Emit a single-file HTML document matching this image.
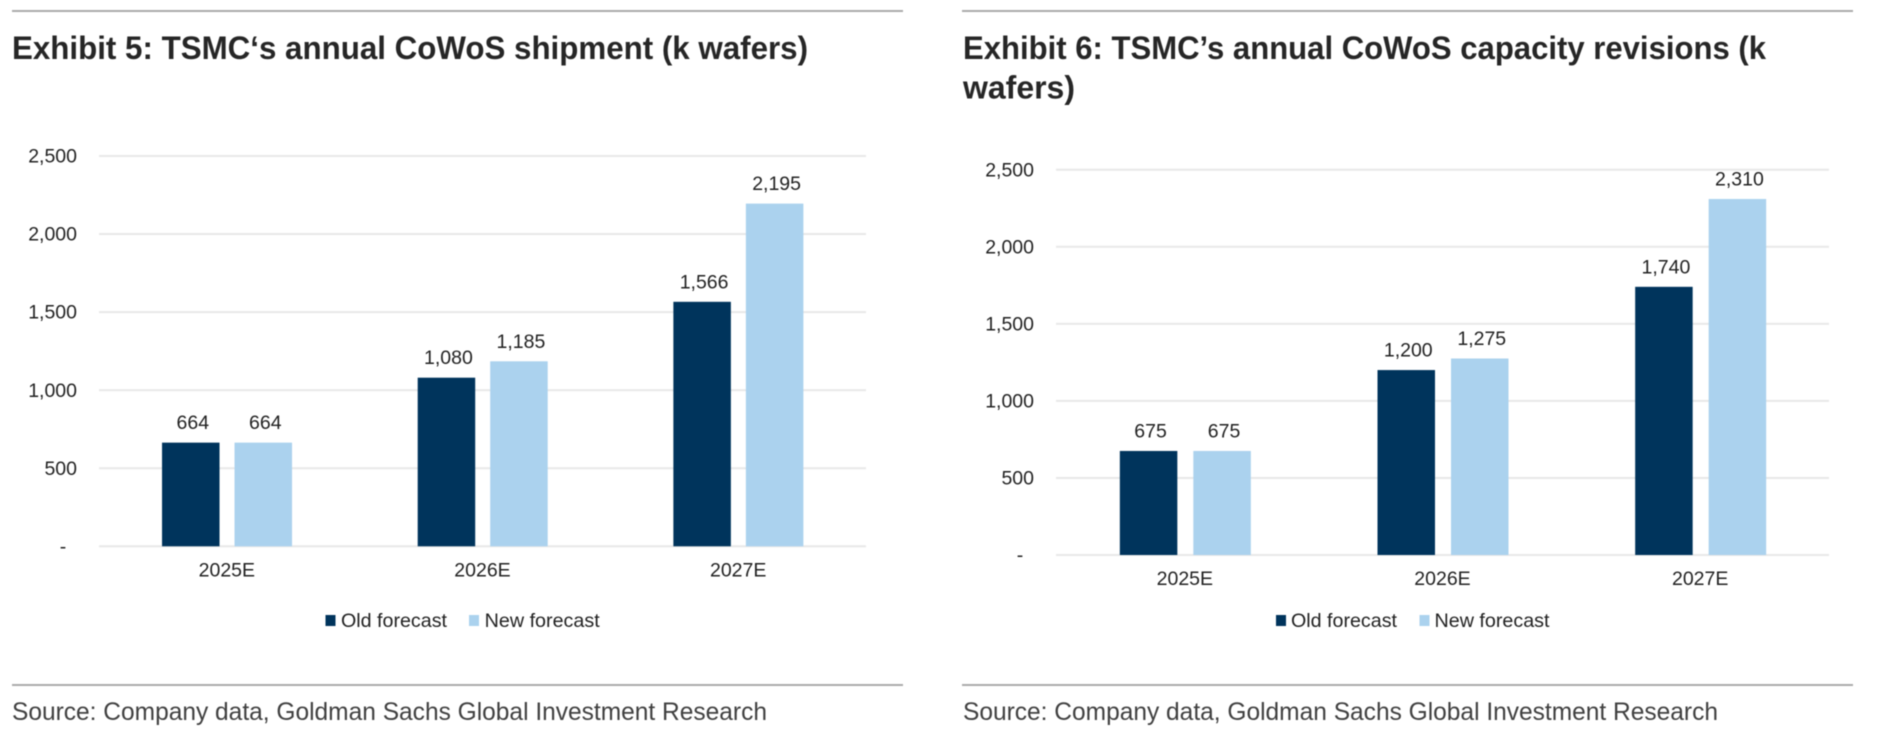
<!DOCTYPE html>
<html lang="en">
<head>
<meta charset="utf-8">
<title>TSMC CoWoS exhibits</title>
<style>
html,body{margin:0;padding:0;background:#fff;width:1884px;height:748px;overflow:hidden}
svg{display:block;filter:blur(0.45px)}
text{font-family:"Liberation Sans",Arial,sans-serif}
.title{font-size:32.5px;font-weight:700;fill:#262626}
.source{font-size:25px;fill:#404040}
.lab{font-size:19.5px;fill:#222}
</style>
</head>
<body>
<svg id="page" xmlns="http://www.w3.org/2000/svg" width="1884" height="748" viewBox="0 0 1884 748">
  <rect x="0" y="0" width="1884" height="748" fill="#ffffff"/>

  <g id="panel5">
    <rect x="12" y="10" width="891" height="2" fill="#aaaaaa"/>
    <text class="title" x="12" y="59" textLength="796" lengthAdjust="spacingAndGlyphs">Exhibit 5: TSMC‘s annual CoWoS shipment (k wafers)</text>
    <rect x="12" y="684" width="891" height="2" fill="#aaaaaa"/>
    <text class="source" x="12" y="720" textLength="755" lengthAdjust="spacingAndGlyphs">Source: Company data, Goldman Sachs Global Investment Research</text>
    <g>
      <rect x="325.5" y="615" width="10" height="11" fill="#00345c"/>
      <text class="lab" x="341" y="627" textLength="106" lengthAdjust="spacingAndGlyphs">Old forecast</text>
      <rect x="469" y="615" width="10" height="11" fill="#abd2ee"/>
      <text class="lab" x="484.7" y="627" textLength="115" lengthAdjust="spacingAndGlyphs">New forecast</text>
    </g>
  </g>

  <g id="panel6">
    <rect x="962" y="10" width="891" height="2" fill="#aaaaaa"/>
    <text class="title" x="963" y="59" textLength="803" lengthAdjust="spacingAndGlyphs">Exhibit 6: TSMC’s annual CoWoS capacity revisions (k</text>
    <text class="title" x="963" y="98.5" textLength="112" lengthAdjust="spacingAndGlyphs">wafers)</text>
    <rect x="962" y="684" width="891" height="2" fill="#aaaaaa"/>
    <text class="source" x="963" y="720" textLength="755" lengthAdjust="spacingAndGlyphs">Source: Company data, Goldman Sachs Global Investment Research</text>
    <g>
      <rect x="1276" y="615" width="10" height="11" fill="#00345c"/>
      <text class="lab" x="1291" y="627" textLength="106" lengthAdjust="spacingAndGlyphs">Old forecast</text>
      <rect x="1419.5" y="615" width="10" height="11" fill="#abd2ee"/>
      <text class="lab" x="1434.5" y="627" textLength="115" lengthAdjust="spacingAndGlyphs">New forecast</text>
    </g>
  </g>
</svg>

<script>
const categories = ['2025E', '2026E', '2027E'];
const tickValues = [0, 500, 1000, 1500, 2000, 2500];
const tickLabels = ['-', '500', '1,000', '1,500', '2,000', '2,500'];
const shipmentOld = [664, 1080, 1566];
const shipmentNew = [664, 1185, 2195];
const capacityOld = [675, 1200, 1740];
const capacityNew = [675, 1275, 2310];

const NS = 'http://www.w3.org/2000/svg';
const DARK = '#00345c';
const LIGHT = '#abd2ee';
const GRID = '#e8e8e8';

function svgEl(tag, parent) {
  const el = document.createElementNS(NS, tag);
  parent.appendChild(el);
  return el;
}

function formatValue(v) {
  return v.toLocaleString('en-US');
}

function drawChart(root, oldVals, newVals, box) {
  const maxTick = tickValues[tickValues.length - 1];
  const yScale = function (v) {
    return box.y0 + (box.yTop - box.y0) * v / maxTick;
  };
  const bandWidth = (box.x1 - box.x0) / categories.length;
  const xCenter = function (i) {
    return box.x0 + bandWidth * (i + 0.5);
  };

  tickValues.forEach(function (t, i) {
    const line = svgEl('rect', root);
    
    
    line.setAttribute('x', box.x0);
    line.setAttribute('y', yScale(t) - 1);
    line.setAttribute('width', box.x1 - box.x0);
    line.setAttribute('height', 2);
    line.setAttribute('fill', GRID);

    const label = svgEl('text', root);
    
    
    label.setAttribute('class', 'lab');
    if (t === 0) {
      label.setAttribute('x', box.dashX);
      label.setAttribute('text-anchor', 'middle');
    } else {
      label.setAttribute('x', box.tickRight);
      label.setAttribute('text-anchor', 'end');
    }
    label.setAttribute('y', yScale(t) + 6.6);
    label.textContent = tickLabels[i];
  });

  categories.forEach(function (cat, i) {
    const cx = xCenter(i);
    const bx = cx + box.barShift;
    const barW = 57.5;
    const gap = box.gap;

    const oldBar = svgEl('rect', root);
    
    
    oldBar.setAttribute('x', bx - gap / 2 - barW);
    oldBar.setAttribute('y', yScale(oldVals[i]));
    oldBar.setAttribute('width', barW);
    oldBar.setAttribute('height', yScale(0) - yScale(oldVals[i]));
    oldBar.setAttribute('fill', DARK);

    const newBar = svgEl('rect', root);
    
    
    newBar.setAttribute('x', bx + gap / 2);
    newBar.setAttribute('y', yScale(newVals[i]));
    newBar.setAttribute('width', barW);
    newBar.setAttribute('height', yScale(0) - yScale(newVals[i]));
    newBar.setAttribute('fill', LIGHT);

    const oldLabel = svgEl('text', root);
    
    
    oldLabel.setAttribute('class', 'lab');
    oldLabel.setAttribute('text-anchor', 'middle');
    oldLabel.setAttribute('x', bx - gap / 2 - barW / 2 + 2);
    oldLabel.setAttribute('y', yScale(oldVals[i]) - 13.5);
    oldLabel.textContent = formatValue(oldVals[i]);

    const newLabel = svgEl('text', root);
    
    
    newLabel.setAttribute('class', 'lab');
    newLabel.setAttribute('text-anchor', 'middle');
    newLabel.setAttribute('x', bx + gap / 2 + barW / 2 + 2);
    newLabel.setAttribute('y', yScale(newVals[i]) - 13.5);
    newLabel.textContent = formatValue(newVals[i]);

    const catLabel = svgEl('text', root);
    
    
    catLabel.setAttribute('class', 'lab');
    catLabel.setAttribute('text-anchor', 'middle');
    catLabel.setAttribute('x', cx);
    catLabel.setAttribute('y', box.catY);
    catLabel.textContent = cat;
  });
}

drawChart(document.getElementById('panel5'), shipmentOld, shipmentNew, {
  x0: 99, x1: 866, y0: 546.3, yTop: 156, tickRight: 77, dashX: 63, catY: 576.7, gap: 15, barShift: 0.2
});
drawChart(document.getElementById('panel6'), capacityOld, capacityNew, {
  x0: 1056, x1: 1829, y0: 555, yTop: 169.7, tickRight: 1034, dashX: 1020, catY: 585, gap: 16, barShift: 0.5
});
</script>
</body>
</html>
